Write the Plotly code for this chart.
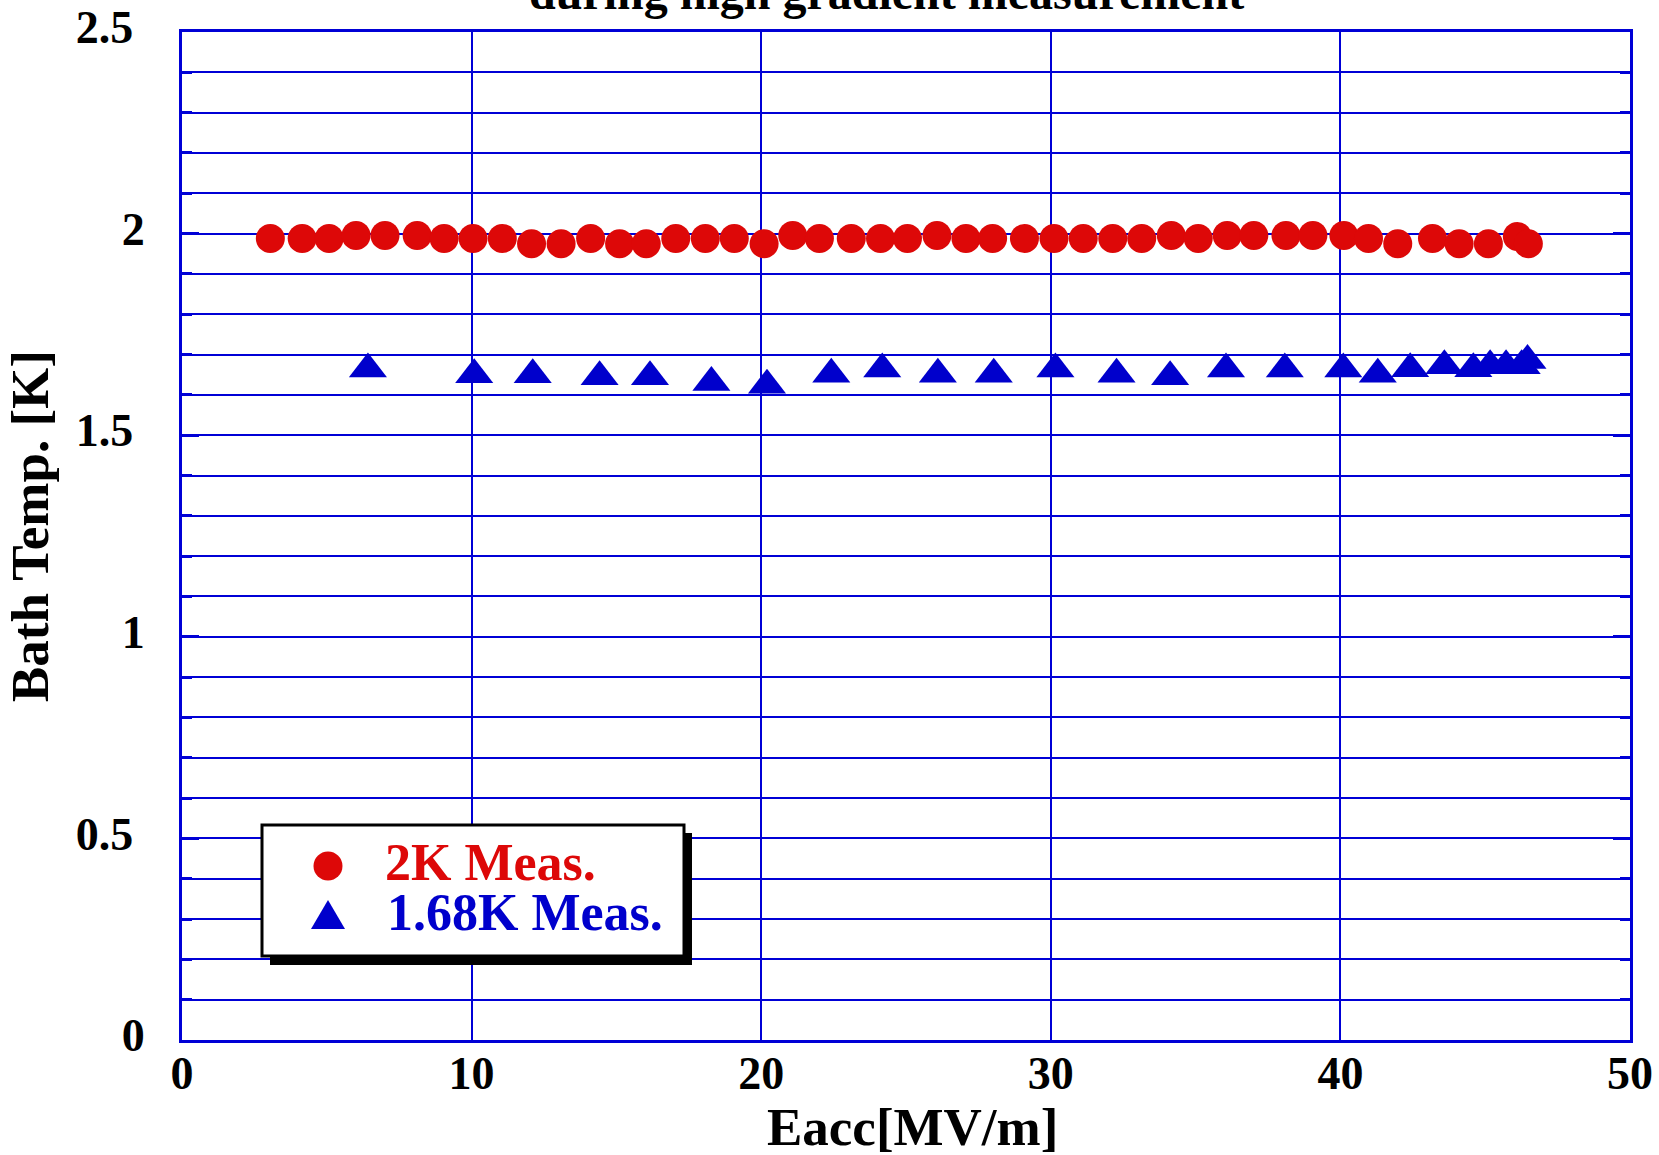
import plotly.graph_objects as go

# ---------------- data ----------------
eacc_2k = [3.05, 4.15, 5.08, 6.01, 7.01, 8.12, 9.05, 10.05, 11.06, 12.07, 13.09, 14.11,
           15.11, 16.03, 17.05, 18.07, 19.07, 20.10, 21.09, 22.01, 23.11, 24.12, 25.05,
           26.07, 27.07, 27.99, 29.09, 30.11, 31.12, 32.14, 33.14, 34.16, 35.09, 36.09,
           37.01, 38.12, 39.05, 40.12, 40.97, 41.98, 43.18, 44.10, 45.11, 46.11, 46.49]
temp_2k = [1.988, 1.988, 1.988, 1.995, 1.995, 1.995, 1.988, 1.988, 1.988, 1.975, 1.975, 1.988,
           1.975, 1.975, 1.988, 1.988, 1.988, 1.975, 1.995, 1.988, 1.988, 1.988, 1.988,
           1.995, 1.988, 1.988, 1.988, 1.988, 1.988, 1.988, 1.988, 1.995, 1.988, 1.995,
           1.995, 1.995, 1.995, 1.995, 1.988, 1.975, 1.988, 1.975, 1.975, 1.993, 1.975]

eacc_168k = [6.42, 10.09, 12.11, 14.42, 16.16, 18.28, 20.20, 22.42, 24.18, 26.10, 28.03,
             30.16, 32.27, 34.12, 36.05, 38.08, 40.10, 41.29, 42.41, 43.59, 44.59, 45.17,
             45.72, 46.26, 46.46]
temp_168k = [1.664, 1.650, 1.650, 1.645, 1.645, 1.631, 1.624, 1.651, 1.664, 1.651, 1.651,
             1.664, 1.651, 1.645, 1.664, 1.664, 1.664, 1.651, 1.665, 1.672, 1.665, 1.672,
             1.672, 1.672, 1.685]

y_tickvals = [0, 0.5, 1, 1.5, 2, 2.5]
y_ticktext = ["0", "0.5\u00a0", "1", "1.5\u00a0", "2", "2.5\u00a0"]
x_tickvals = [0, 10, 20, 30, 40, 50]
x_ticktext = ["0", "10", "20", "30", "40", "50"]

series_names = ["2K Meas.", "1.68K Meas."]
title_text = "during high gradient measurement"
x_title = "Eacc[MV/m]"
y_title = "Bath Temp. [K]"

# ---------------- style ----------------
W, H = 1659, 1155
L, R, T, B = 182, 1630, 32, 1040
BLUE = "#0000D6"
RED = "#DD0808"
MBLUE = "#0000CC"
FONT = "Liberation Serif"


def px_x(p):
    return (p - L) / (R - L)


def px_y(p):
    return (B - p) / (B - T)


fig = go.Figure()
fig.add_trace(go.Scatter(x=eacc_2k, y=temp_2k, mode="markers", name=series_names[0],
                         marker=dict(symbol="circle", size=29, color=RED, line=dict(width=0))))
fig.add_trace(go.Scatter(x=eacc_168k, y=temp_168k, mode="markers", name=series_names[1],
                         marker=dict(symbol="triangle-up", size=33, color=MBLUE, line=dict(width=0))))

tickfont = dict(family=FONT, size=46, color="black", weight="bold")

fig.update_layout(
    width=W, height=H,
    margin=dict(l=L, r=W - R, t=T, b=H - B, pad=0, autoexpand=False),
    paper_bgcolor="white", plot_bgcolor="white",
    showlegend=False,
    font=dict(family=FONT, color="black"),
    xaxis=dict(range=[0, 50], tickmode="array", tickvals=x_tickvals, ticktext=x_ticktext,
               showgrid=True, gridcolor=BLUE, gridwidth=2,
               showline=True, linecolor=BLUE, linewidth=3, mirror="ticks", zeroline=False,
               ticks="inside", ticklen=0, tickwidth=3, tickcolor=BLUE, automargin=False,
               tickfont=tickfont, ticklabelstandoff=-9, ticklabeloverflow="allow"),
    yaxis=dict(range=[0, 2.5], tickmode="array", tickvals=y_tickvals, ticktext=y_ticktext,
               showgrid=True, gridcolor=BLUE, gridwidth=2,
               showline=True, linecolor=BLUE, linewidth=3, mirror="ticks", zeroline=False,
               ticks="inside", ticklen=17, tickwidth=3, tickcolor=BLUE, automargin=False,
               minor=dict(dtick=0.1, tick0=0, showgrid=True, gridcolor=BLUE, gridwidth=2,
                          ticks="inside", ticklen=10, tickwidth=3, tickcolor=BLUE),
               tickfont=tickfont, ticklabelstandoff=25, ticklabelshift=-5,
               ticklabeloverflow="allow"),
)

# ---------------- legend box (drawn manually) ----------------
shapes = [
    dict(type="rect", xref="paper", yref="paper", layer="above",
         x0=px_x(270), x1=px_x(692), y0=px_y(965), y1=px_y(833),
         fillcolor="black", line=dict(width=0)),
    dict(type="rect", xref="paper", yref="paper", layer="above",
         x0=px_x(262), x1=px_x(684), y0=px_y(956), y1=px_y(825),
         fillcolor="white", line=dict(color="black", width=3)),
    dict(type="circle", xref="paper", yref="paper", layer="above",
         x0=px_x(313.5), x1=px_x(342.5), y0=px_y(880.5), y1=px_y(851.5),
         fillcolor=RED, line=dict(width=0)),
    dict(type="path", xref="paper", yref="paper", layer="above",
         path="M {a},{b} L {c},{b} L {d},{e} Z".format(
             a=px_x(311), c=px_x(345), b=px_y(929), d=px_x(328), e=px_y(900)),
         fillcolor=MBLUE, line=dict(width=0)),
]
fig.update_layout(shapes=shapes)

annotations = [
    dict(text=series_names[0], xref="paper", yref="paper", x=px_x(383), y=px_y(862.5),
         xanchor="left", yanchor="middle", showarrow=False,
         font=dict(family=FONT, size=52, color=RED, weight="bold")),
    dict(text=series_names[1], xref="paper", yref="paper", x=px_x(385), y=px_y(912.5),
         xanchor="left", yanchor="middle", showarrow=False,
         font=dict(family=FONT, size=52, color=MBLUE, weight="bold")),
    dict(text=title_text, xref="paper", yref="paper", x=px_x(886), y=px_y(21),
         xanchor="center", yanchor="bottom", showarrow=False,
         font=dict(family=FONT, size=48, color="black", weight="bold")),
    dict(text=x_title, xref="paper", yref="paper", x=px_x(913), y=px_y(1127),
         xanchor="center", yanchor="middle", showarrow=False,
         font=dict(family=FONT, size=53, color="black", weight="bold")),
    dict(text=y_title, xref="paper", yref="paper", x=px_x(30), y=px_y(526),
         xanchor="center", yanchor="middle", showarrow=False, textangle=-90,
         font=dict(family=FONT, size=53, color="black", weight="bold")),
]
fig.update_layout(annotations=annotations)

fig.write_html("out.html")
